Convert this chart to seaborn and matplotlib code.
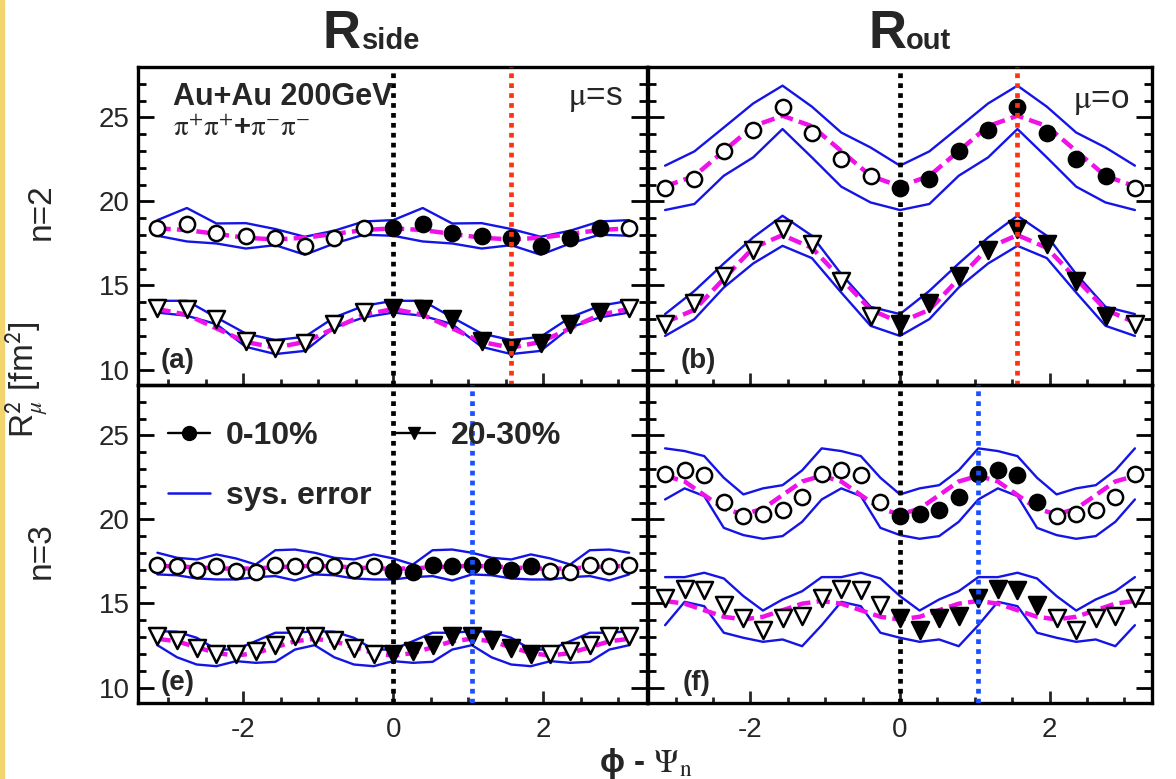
import numpy as np
import pandas as pd
import matplotlib
matplotlib.use("Agg")
import matplotlib.pyplot as plt
import seaborn as sns
from matplotlib.lines import Line2D
from matplotlib.patches import Rectangle
from matplotlib.ticker import MultipleLocator

# ---------------- data ----------------
# azimuthal bins: n=2 -> steps of pi/8, n=3 -> steps of pi/12
phi_n2 = [k * np.pi / 8 for k in range(-8, 9)]
phi_n3 = [k * np.pi / 12 for k in range(-12, 13)]

# (a) R_side^2, n=2
a_c    = [18.40,18.63,18.10,17.94,17.84,17.33,17.84,18.42,18.40,18.63,18.10,17.94,17.84,17.33,17.84,18.42,18.40]
a_c_up = [18.89,19.61,18.69,18.71,18.36,17.90,18.26,18.81,18.89,19.61,18.69,18.71,18.36,17.90,18.26,18.81,18.89]
a_c_lo = [17.96,17.62,17.50,17.20,17.40,16.83,17.50,18.02,17.96,17.62,17.50,17.20,17.40,16.83,17.50,18.02,17.96]
a_c_fit= [18.40,18.30,18.07,17.84,17.74,17.84,18.07,18.30,18.40,18.30,18.07,17.84,17.74,17.84,18.07,18.30,18.40]
a_t    = [13.69,13.60,13.00,11.71,11.27,11.55,12.70,13.45,13.69,13.60,13.00,11.71,11.27,11.55,12.70,13.45,13.69]
a_t_up = [14.09,14.09,13.10,12.14,11.75,11.95,13.10,13.79,14.09,14.09,13.10,12.14,11.75,11.95,13.10,13.79,14.09]
a_t_lo = [13.39,13.20,12.70,11.35,10.92,11.11,12.50,13.10,13.39,13.20,12.70,11.35,10.92,11.11,12.50,13.10,13.39]
a_t_fit= [13.60,13.26,12.45,11.64,11.30,11.64,12.45,13.26,13.60,13.26,12.45,11.64,11.30,11.64,12.45,13.26,13.60]

# (b) R_out^2, n=2
b_c    = [20.83,21.33,23.02,24.25,25.60,24.10,22.52,21.53,20.83,21.33,23.02,24.25,25.60,24.10,22.52,21.53,20.83]
b_c_up = [22.13,22.98,24.40,25.83,26.89,25.64,24.10,23.21,22.13,22.98,24.40,25.83,26.89,25.64,24.10,23.21,22.13]
b_c_lo = [19.49,19.85,21.53,22.62,24.31,22.62,20.88,19.94,19.49,19.85,21.53,22.62,24.31,22.62,20.88,19.94,19.49]
b_c_fit= [20.90,21.52,23.00,24.48,25.10,24.48,23.00,21.52,20.90,21.52,23.00,24.48,25.10,24.48,23.00,21.52,20.90]
b_t    = [12.70,13.93,15.58,17.10,18.36,17.46,15.28,13.20,12.70,13.93,15.58,17.10,18.36,17.46,15.28,13.20,12.70]
b_t_up = [13.30,14.68,16.31,17.86,19.15,17.96,15.68,13.73,13.30,14.68,16.31,17.86,19.15,17.96,15.68,13.73,13.30]
b_t_lo = [12.00,13.00,14.88,16.31,17.36,16.63,14.58,12.60,12.00,13.00,14.88,16.31,17.36,16.63,14.58,12.60,12.00]
b_t_fit= [12.80,13.56,15.40,17.24,18.00,17.24,15.40,13.56,12.80,13.56,15.40,17.24,18.00,17.24,15.40,13.56,12.80]

# (e) R_side^2, n=3
e_c    = [17.32,17.22,17.02,17.22,16.92,16.89,17.32,17.22,17.32,17.22,17.02,17.22,16.92,16.89,17.32,17.22,17.32,17.22,17.02,17.22,16.92,16.89,17.32,17.22,17.32]
e_c_up = [18.02,17.72,17.62,17.92,17.68,17.32,18.17,18.21,18.02,17.72,17.62,17.92,17.68,17.32,18.17,18.21,18.02,17.72,17.62,17.92,17.68,17.32,18.17,18.21,18.02]
e_c_lo = [16.73,16.68,16.49,16.43,16.43,16.57,16.63,16.37,16.73,16.68,16.49,16.43,16.43,16.57,16.63,16.37,16.73,16.68,16.49,16.43,16.43,16.57,16.63,16.37,16.73]
e_c_fit= [17.23,17.21,17.15,17.09,17.07,17.09,17.15,17.21,17.23,17.21,17.15,17.09,17.07,17.09,17.15,17.21,17.23,17.21,17.15,17.09,17.07,17.09,17.15,17.21,17.23]
e_t    = [13.05,12.80,12.36,12.00,12.00,12.16,12.52,13.05,13.05,12.80,12.36,12.00,12.00,12.16,12.52,13.05,13.05,12.80,12.36,12.00,12.00,12.16,12.52,13.05,13.05]
e_t_up = [13.35,13.32,12.96,12.26,12.26,12.76,13.26,13.26,13.35,13.32,12.96,12.26,12.26,12.76,13.26,13.26,13.35,13.32,12.96,12.26,12.26,12.76,13.26,13.26,13.35]
e_t_lo = [12.52,11.80,11.37,11.27,11.57,11.47,11.53,12.26,12.52,11.80,11.37,11.27,11.57,11.47,11.53,12.26,12.52,11.80,11.37,11.27,11.57,11.47,11.53,12.26,12.52]
e_t_fit= [12.90,12.75,12.40,12.05,11.90,12.05,12.40,12.75,12.90,12.75,12.40,12.05,11.90,12.05,12.40,12.75,12.90,12.75,12.40,12.05,11.90,12.05,12.40,12.75,12.90]

# (f) R_out^2, n=3
f_c    = [22.72,22.92,22.64,21.05,20.20,20.34,20.54,21.33,22.72,22.92,22.64,21.05,20.20,20.34,20.54,21.33,22.72,22.92,22.64,21.05,20.20,20.34,20.54,21.33,22.72]
f_c_up = [24.23,24.07,23.77,22.48,21.49,21.85,22.04,22.92,24.23,24.07,23.77,22.48,21.49,21.85,22.04,22.92,24.23,24.07,23.77,22.48,21.49,21.85,22.04,22.92,24.23]
f_c_lo = [21.19,21.85,21.39,19.50,19.07,18.85,19.01,19.86,21.19,21.85,21.39,19.50,19.07,18.85,19.01,19.86,21.19,21.85,21.39,19.50,19.07,18.85,19.01,19.86,21.19]
f_c_fit= [22.60,22.26,21.45,20.64,20.30,20.64,21.45,22.26,22.60,22.26,21.45,20.64,20.30,20.64,21.45,22.26,22.60,22.26,21.45,20.64,20.30,20.64,21.45,22.26,22.60]
f_t    = [15.34,15.89,15.83,14.90,14.15,13.45,14.15,14.24,15.34,15.89,15.83,14.90,14.15,13.45,14.15,14.24,15.34,15.89,15.83,14.90,14.15,13.45,14.15,14.24,15.34]
f_t_up = [16.57,16.57,16.83,16.49,15.44,14.58,15.24,15.73,16.57,16.57,16.83,16.49,15.44,14.58,15.24,15.73,16.57,16.57,16.83,16.49,15.44,14.58,15.24,15.73,16.57]
f_t_lo = [13.71,15.10,14.84,13.26,12.96,12.72,12.86,12.46,13.71,15.10,14.84,13.26,12.96,12.72,12.86,12.46,13.71,15.10,14.84,13.26,12.96,12.72,12.86,12.46,13.71]
f_t_fit= [15.15,14.99,14.60,14.21,14.05,14.21,14.60,14.99,15.15,14.99,14.60,14.21,14.05,14.21,14.60,14.99,15.15,14.99,14.60,14.21,14.05,14.21,14.60,14.99,15.15]

x_ticks = [-2, 0, 2]
y_ticks = [10, 15, 20, 25]
legend_labels = ["0-10%", "20-30%", "sys. error"]

# ---------------- style ----------------
sns.set_style("ticks")
plt.rcParams['font.family'] = ['Liberation Sans', 'DejaVu Sans']
plt.rcParams['mathtext.fontset'] = 'stix'
plt.rcParams['axes.unicode_minus'] = False

BLUE = '#1414e6'
MAGENTA = '#f010e8'
RED_DOT = '#ff3311'
BLUE_DOT = '#1a50ff'

W, H = 1176, 779
fig = plt.figure(figsize=(W / 100, H / 100), dpi=100)


def fx(px):
    return px / W


def fy(py):
    return 1 - py / H


def add_axes(x0, x1, y0, y1):
    return fig.add_axes([fx(x0), fy(y1), fx(x1) - fx(x0), fy(y0) - fy(y1)])


panels = {
    'a': dict(box=(138, 647, 67, 385), xlim=(-3.40, 3.38), phi=phi_n2, n=2, vline=np.pi / 2, vcol=RED_DOT,
              series=[(a_c, a_c_up, a_c_lo, a_c_fit, 'o'), (a_t, a_t_up, a_t_lo, a_t_fit, 'v')]),
    'b': dict(box=(648, 1152, 67, 385), xlim=(-3.37, 3.37), phi=phi_n2, n=2, vline=np.pi / 2, vcol=RED_DOT,
              series=[(b_c, b_c_up, b_c_lo, b_c_fit, 'o'), (b_t, b_t_up, b_t_lo, b_t_fit, 'v')]),
    'e': dict(box=(138, 647, 385, 703), xlim=(-3.40, 3.38), phi=phi_n3, n=3, vline=np.pi / 3, vcol=BLUE_DOT,
              series=[(e_c, e_c_up, e_c_lo, e_c_fit, 'o'), (e_t, e_t_up, e_t_lo, e_t_fit, 'v')]),
    'f': dict(box=(648, 1152, 385, 703), xlim=(-3.37, 3.37), phi=phi_n3, n=3, vline=np.pi / 3, vcol=BLUE_DOT,
              series=[(f_c, f_c_up, f_c_lo, f_c_fit, 'o'), (f_t, f_t_up, f_t_lo, f_t_fit, 'v')]),
}

axes = {}
for key, p in panels.items():
    ax = add_axes(*p['box'])
    axes[key] = ax
    phi = np.array(p['phi'])
    period = 2 * np.pi / p['n']
    for vals, up, lo, fit, mk in p['series']:
        df = pd.DataFrame({'phi': phi, 'v': vals, 'up': up, 'lo': lo, 'fit': fit})
        df['filled'] = (df['phi'] >= -1e-9) & (df['phi'] < period - 1e-6)
        sns.lineplot(data=df, x='phi', y='up', ax=ax, color=BLUE, lw=1.7, zorder=2, estimator=None)
        sns.lineplot(data=df, x='phi', y='lo', ax=ax, color=BLUE, lw=1.7, zorder=2, estimator=None)
        sns.lineplot(data=df, x='phi', y='fit', ax=ax, color=MAGENTA, lw=3.2, zorder=3,
                     linestyle=(0, (3.0, 1.4)), estimator=None)
        size = 120 if mk == 'o' else 150
        sns.scatterplot(data=df[~df['filled']], x='phi', y='v', ax=ax, marker=mk, s=size,
                        facecolor='white', edgecolor='black', linewidth=1.8, zorder=4)
        sns.scatterplot(data=df[df['filled']], x='phi', y='v', ax=ax, marker=mk, s=size,
                        facecolor='black', edgecolor='black', linewidth=1.8, zorder=4)
    ax.axvline(0, color='black', lw=3.4, ls=(0, (1, 1.1)), zorder=5)
    ax.axvline(p['vline'], color=p['vcol'], lw=3.4, ls=(0, (1, 1.1)), zorder=5)

    ax.set_xlim(*p['xlim'])
    ax.set_ylim(9.08, 28.0)
    ax.set_xlabel('')
    ax.set_ylabel('')
    ax.xaxis.set_major_locator(plt.FixedLocator(x_ticks))
    ax.xaxis.set_minor_locator(MultipleLocator(0.5))
    ax.yaxis.set_major_locator(plt.FixedLocator(y_ticks))
    ax.yaxis.set_minor_locator(MultipleLocator(1))
    ax.tick_params(axis='y', which='both', direction='in', left=True, right=True, width=2.0, color='black')
    ax.tick_params(axis='y', which='major', length=11.5)
    ax.tick_params(axis='y', which='minor', length=5.5)
    ax.tick_params(axis='x', which='both', direction='in', bottom=True, top=False, width=2.0)
    ax.tick_params(axis='x', which='major', length=9)
    ax.tick_params(axis='x', which='minor', length=4.5)
    ax.tick_params(axis='y', labelsize=20, pad=6)
    ax.tick_params(axis='x', labelsize=20, pad=10)
    if key in ('b', 'f'):
        ax.tick_params(axis='y', labelleft=False)
    if key in ('a', 'b'):
        ax.tick_params(axis='x', labelbottom=False)
    for s in ax.spines.values():
        s.set_linewidth(2.4)
        s.set_color('black')
    ax.set_facecolor('none')
    ax.grid(False)
    if ax.get_legend():
        ax.get_legend().remove()

# ---------------- text ----------------
fig.text(fx(322), fy(48), "R", fontsize=38, fontweight='bold', ha='left', va='baseline')
fig.text(fx(362), fy(49), "side", fontsize=21, fontweight='bold', ha='left', va='baseline')
fig.text(fx(868), fy(48), "R", fontsize=38, fontweight='bold', ha='left', va='baseline')
fig.text(fx(906), fy(49), "out", fontsize=21, fontweight='bold', ha='left', va='baseline')

fig.text(fx(173), fy(105), "Au+Au 200GeV", fontsize=22, fontweight='bold', ha='left', va='baseline')
fig.text(fx(173), fy(136), r"$\mathrm{\pi^{+}\pi^{+}}$+$\mathrm{\pi^{-}\pi^{-}}$", fontsize=21,
         fontweight='bold', ha='left', va='baseline')
fig.text(fx(623), fy(105), r"$\mathrm{\mu}$=s", fontsize=24, ha='right', va='baseline')
fig.text(fx(1129), fy(108), r"$\mathrm{\mu}$=o", fontsize=24, ha='right', va='baseline')

fig.text(fx(161), fy(368), "(a)", fontsize=20, fontweight='bold', ha='left', va='baseline')
fig.text(fx(681), fy(368), "(b)", fontsize=20, fontweight='bold', ha='left', va='baseline')
fig.text(fx(161), fy(690), "(e)", fontsize=20, fontweight='bold', ha='left', va='baseline')
fig.text(fx(683), fy(690), "(f)", fontsize=20, fontweight='bold', ha='left', va='baseline')

fig.text(fx(27), fy(380), r"R$^{\mathsf{2}}_{\mu}$ [fm$^{\mathsf{2}}$]", fontsize=24, rotation=90,
         ha='center', va='center')
fig.text(fx(41), fy(212), "n=2", fontsize=24, rotation=90, ha='center', va='center')
fig.text(fx(41), fy(551), "n=3", fontsize=24, rotation=90, ha='center', va='center')
fig.text(fx(646), fy(772), r"ϕ - $\Psi_{\mathrm{n}}$", fontsize=24, fontweight='bold',
         ha='center', va='baseline')

# legend in panel (e)
h_c = Line2D([], [], color='black', lw=1.7, marker='o', ms=10, mfc='black', mec='black')
h_t = Line2D([], [], color='black', lw=1.7, marker='v', ms=9, mfc='black', mec='black')
h_s = Line2D([], [], color=BLUE, lw=1.8)
leg = axes['e'].legend([h_c, h_s, h_t], [legend_labels[0], legend_labels[2], legend_labels[1]],
                       ncol=2, loc='upper left', bbox_to_anchor=(fx(168), fy(421)),
                       bbox_transform=fig.transFigure, frameon=False,
                       prop={'weight': 'bold', 'size': 23}, handlelength=1.3, handletextpad=0.5,
                       columnspacing=0.7, labelspacing=0.95, borderpad=0, borderaxespad=0)

# yellow edge strip of the original slide
fig.patches.append(Rectangle((0, 0), fx(4), 1, transform=fig.transFigure, color='#f3d46e', zorder=0))

fig.savefig("out.png", dpi=100)
